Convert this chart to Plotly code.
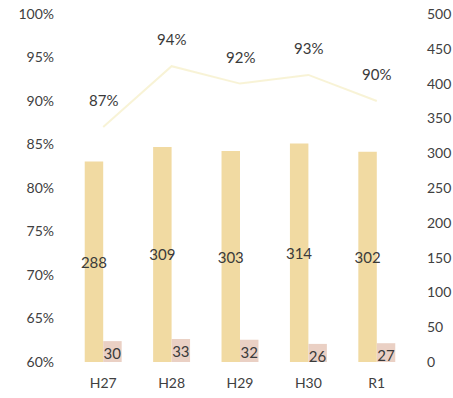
import plotly.graph_objects as go

years = ["H27", "H28", "H29", "H30", "R1"]
total = [288, 309, 303, 314, 302]
small = [30, 33, 32, 26, 27]
rate = [0.87, 0.94, 0.92, 0.93, 0.90]

count_ticks = list(range(0, 501, 50))
pct_ticks = [0.60, 0.65, 0.70, 0.75, 0.80, 0.85, 0.90, 0.95, 1.00]

font_txt = dict(family="Lato", size=14, color="#404040")
font_lbl = dict(family="Lato", size=15, color="#3a3a3a")

fig = go.Figure()
fig.add_trace(go.Bar(
    x=years, y=total, yaxis="y", marker=dict(color="#f1daa2", line=dict(width=0)),
    text=[str(v) for v in total], textposition="inside", insidetextanchor="middle",
    textangle=0, textfont=font_lbl, constraintext="none", showlegend=False,
))
fig.add_trace(go.Bar(
    x=years, y=small, yaxis="y", marker=dict(color="#ead0c4", line=dict(width=0)),
    text=[str(v) for v in small], textposition="inside", insidetextanchor="end",
    textangle=0, textfont=font_lbl, constraintext="none", showlegend=False,
))
fig.add_trace(go.Scatter(
    x=years, y=rate, yaxis="y2", mode="lines",
    line=dict(color="rgba(246,239,200,0.75)", width=2), showlegend=False,
))
for xv, yv in zip(years, rate):
    fig.add_annotation(x=xv, y=yv, xref="x", yref="y2", text=f"{round(yv*100)}%",
                       showarrow=False, yshift=27, font=font_lbl)

fig.update_layout(
    width=453, height=398,
    margin=dict(l=69, r=42, t=14, b=36, autoexpand=False),
    paper_bgcolor="white", plot_bgcolor="white",
    barmode="group", bargap=0.46, bargroupgap=0,
    font=font_txt,
    xaxis=dict(showgrid=False, showline=False, zeroline=False, ticks="",
               automargin=False, ticklabelstandoff=11, tickfont=font_txt),
    yaxis=dict(side="right", range=[0, 500], tickvals=count_ticks,
               ticktext=[str(v) for v in count_ticks],
               showgrid=False, zeroline=False, showline=False, automargin=False,
               ticklabelstandoff=15, tickfont=font_txt),
    yaxis2=dict(side="left", overlaying="y", range=[0.6, 1.0], tickvals=pct_ticks,
                ticktext=[f"{round(v*100)}%" for v in pct_ticks],
                showgrid=False, zeroline=False, showline=False, automargin=False,
                ticklabelstandoff=14, tickfont=font_txt),
)
fig.write_html("out.html")
